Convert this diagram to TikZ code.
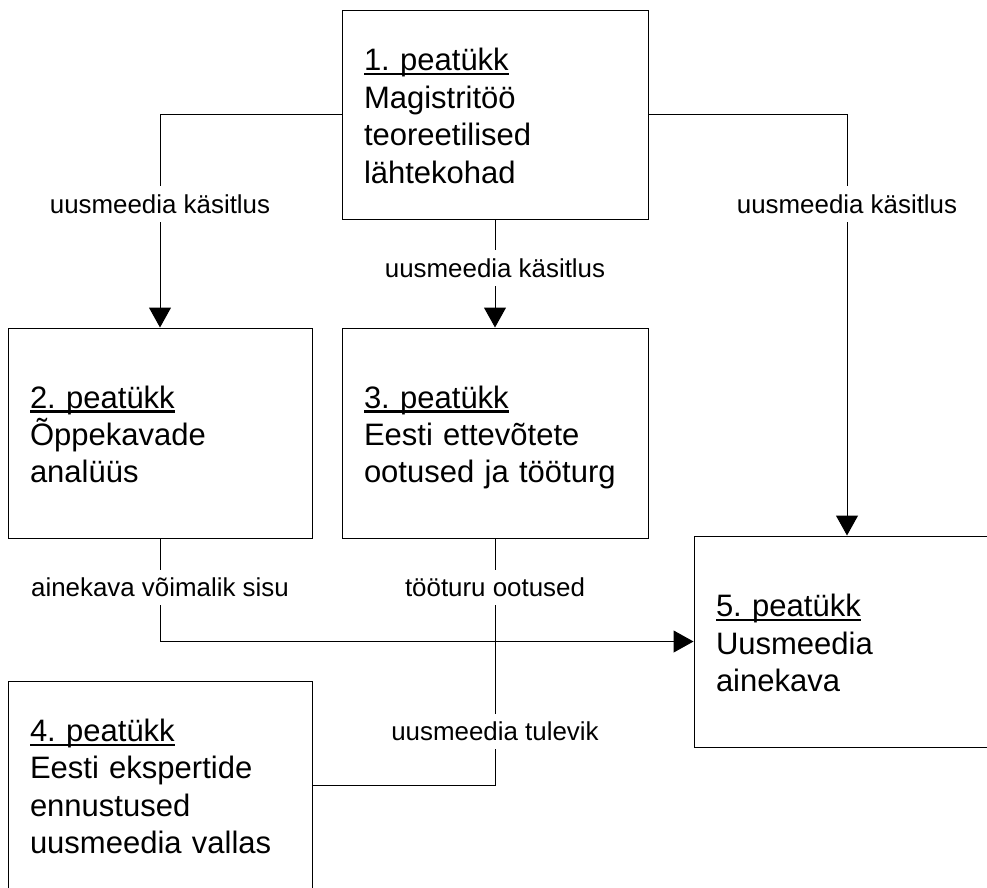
\documentclass[tikz,border=0pt]{standalone}
\usepackage{fontspec}
\setmainfont{Liberation Sans}
\usetikzlibrary{arrows.meta}
\frenchspacing
\newcommand\chap[1]{\setbox0\hbox{#1}\rlap{\rule[-4.5pt]{\wd0}{2.2pt}}\box0}
\newcommand\tstrut{\rule{0pt}{32pt}}
\newcommand\bstrut{\rule[-7pt]{0pt}{7pt}}
\tikzset{
  chapbox/.style={draw, line width=1pt, inner xsep=22pt, inner ysep=0pt,
    align=left, font=\fontsize{31}{37.4}\selectfont\frenchspacing},
  lbl/.style={fill=white, inner xsep=2pt, inner ysep=8pt,
    font=\fontsize{25.9}{30}\selectfont},
  conn/.style={line width=1pt},
  arr/.style={conn, -{Triangle[length=20pt, width=22pt]}}
}
\begin{document}
\begin{tikzpicture}[x=1pt, y=-1pt]
\useasboundingbox (0,0) rectangle (987,887);
\node[chapbox, minimum width=306pt, minimum height=209pt, text width=262pt] (c1) at (495,114.5)
  {\tstrut\chap{1. peatükk}\\Magistritöö\\teoreetilised\\lähtekohad\bstrut};
\node[chapbox, minimum width=304pt, minimum height=210pt, text width=260pt] (c2) at (160,433)
  {\tstrut\chap{2. peatükk}\\Õppekavade\\analüüs\bstrut};
\node[chapbox, minimum width=306pt, minimum height=210pt, text width=262pt] (c3) at (495,433)
  {\tstrut\chap{3. peatükk}\\Eesti ettevõtete\\ootused ja tööturg\bstrut};
\node[chapbox, minimum width=304pt, minimum height=208pt, text width=260pt] (c4) at (160,785)
  {\tstrut\chap{4. peatükk}\\Eesti ekspertide\\ennustused\\uusmeedia vallas\bstrut};
\node[chapbox, minimum width=306pt, minimum height=211pt, text width=262pt] (c5) at (847,641.5)
  {\tstrut\chap{5. peatükk}\\Uusmeedia\\ainekava\bstrut};

\draw[arr] (c1.west) -| (c2.north);
\draw[arr] (c1.south) -- (c3.north);
\draw[arr] (c1.east) -| (c5.north);
\draw[arr] (c2.south) |- (c5.west);
\draw[conn] (c3.south) |- (c4.east);

\node[lbl] (l1) at (160,204) {uusmeedia käsitlus};
\node[lbl] (l2) at (495,268) {uusmeedia käsitlus};
\node[lbl] (l3) at (847,204) {uusmeedia käsitlus};
\node[lbl] (l4) at (160,587) {ainekava võimalik sisu};
\node[lbl] (l5) at (495,587) {tööturu ootused};
\node[lbl] (l6) at (495,731) {uusmeedia tulevik};
\end{tikzpicture}
\end{document}
